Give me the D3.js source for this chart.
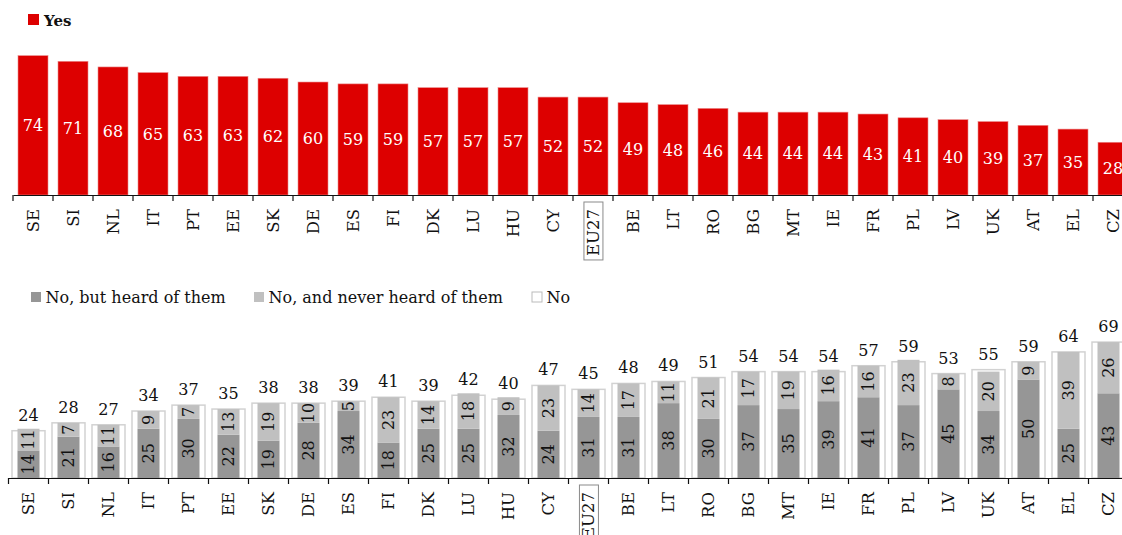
<!DOCTYPE html>
<html>
<head>
<meta charset="utf-8">
<script src="https://cdn.jsdelivr.net/npm/d3@7"></script>
<style>
  html, body { margin: 0; padding: 0; background: #fff; }
  svg text { font-family: "DejaVu Serif", serif; }
</style>
</head>
<body>
<svg id="chart" width="1122" height="535"></svg>
<script>
// Country codes, in the order shown
const countries = ["SE","SI","NL","IT","PT","EE","SK","DE","ES","FI","DK","LU","HU","CY","EU27",
  "BE","LT","RO","BG","MT","IE","FR","PL","LV","UK","AT","EL","CZ"];

// Share answering "Yes"
const yesValues = [74,71,68,65,63,63,62,60,59,59,57,57,57,52,52,49,48,46,44,44,44,43,41,40,39,37,35,28];

// Total "No" and its two components
const noTotal = [24,28,27,34,37,35,38,38,39,41,39,42,40,47,45,48,49,51,54,54,54,57,59,53,55,59,64,69];
const noHeard = [14,21,16,25,30,22,19,28,34,18,25,25,32,24,31,31,38,30,37,35,39,41,37,45,34,50,25,43];
const noNever = [11,7,11,9,7,13,19,10,5,23,14,18,9,23,14,17,11,21,17,19,16,16,23,8,20,9,39,26];

const legendTop = ["Yes"];
const legendBottom = ["No, but heard of them", "No, and never heard of them", "No"];

const RED = "#dd0000", DARK = "#969696", LIGHT = "#c0c0c0", WHITE_EDGE = "#d2d2d2", INK = "#111";
const FS = 16;

const svg = d3.select("#chart");

// ---------- Upper panel: "Yes" ----------
const xTop = d3.scaleBand().domain(countries).range([13, 13 + 40 * countries.length]).paddingInner(0).paddingOuter(0);
const yTop = d3.scaleLinear().domain([0, 100]).range([195, 195 - 188.3]);

const upper = svg.append("g");
const barWTop = 30;

upper.selectAll("rect.yes").data(countries).join("rect")
  .attr("class", "yes")
  .attr("x", d => xTop(d) + (xTop.bandwidth() - barWTop) / 2)
  .attr("width", barWTop)
  .attr("y", (d, i) => yTop(yesValues[i]))
  .attr("height", (d, i) => yTop(0) - yTop(yesValues[i]))
  .attr("fill", RED)
  .attr("stroke", "#ec8a8a").attr("stroke-width", 0.6);

upper.selectAll("text.yesLbl").data(countries).join("text")
  .attr("class", "yesLbl")
  .attr("x", d => xTop(d) + xTop.bandwidth() / 2)
  .attr("y", (d, i) => (yTop(yesValues[i]) + yTop(0)) / 2)
  .attr("dy", "0.36em")
  .attr("text-anchor", "middle")
  .attr("fill", "#fff")
  .attr("font-size", FS)
  .text((d, i) => yesValues[i]);

// axis line and category separators
function drawAxis(g, x, y0) {
  const ax = g.append("g").attr("transform", `translate(0,${y0})`)
    .call(d3.axisBottom(x).tickSize(0).tickFormat(""));
  ax.select(".domain").attr("stroke", INK).attr("stroke-width", 1.2);
  ax.selectAll(".tick").remove();
  const edges = countries.map(c => x(c));
  edges.push(x(countries[countries.length - 1]) + x.bandwidth());
  g.selectAll("line.sep").data(edges).join("line")
    .attr("class", "sep")
    .attr("x1", d => d).attr("x2", d => d)
    .attr("y1", y0).attr("y2", y0 + 6)
    .attr("stroke", INK).attr("stroke-width", 1.2);
}

function drawCategoryLabels(g, x, y0) {
  const lg = g.selectAll("g.cat").data(countries).join("g")
    .attr("class", "cat")
    .attr("transform", d => `translate(${x(d) + x.bandwidth() / 2},${y0 + 14}) rotate(-90)`);
  lg.append("text")
    .attr("text-anchor", "end")
    .attr("dy", "0.36em")
    .attr("font-size", 16.5)
    .attr("fill", INK)
    .text(d => d);
  // the EU average is framed
  lg.filter(d => d === "EU27").each(function () {
    const t = d3.select(this).select("text");
    const b = t.node().getBBox();
    d3.select(this).insert("rect", "text")
      .attr("x", b.x - 4).attr("y", b.y)
      .attr("width", b.width + 11).attr("height", b.height)
      .attr("fill", "none").attr("stroke", "#8a8a8a").attr("stroke-width", 1);
  });
}
drawAxis(upper, xTop, yTop(0));
drawCategoryLabels(upper, xTop, yTop(0));

// upper legend
const lt = svg.append("g");
lt.append("rect").attr("x", 28).attr("y", 14).attr("width", 11).attr("height", 11).attr("fill", RED);
lt.append("text").attr("x", 44).attr("y", 25.5).attr("font-size", 15).attr("font-weight", "bold")
  .attr("fill", INK).text(legendTop[0]);

// ---------- Lower panel: "No" ----------
const xBot = d3.scaleBand().domain(countries).range([8.5, 8.5 + 40 * countries.length]).paddingInner(0).paddingOuter(0);
const yBot = d3.scaleLinear().domain([0, 100]).range([478, 478 - 197]);

const lower = svg.append("g");
const outerW = 33, innerW = 22;

lower.selectAll("rect.noTot").data(countries).join("rect")
  .attr("class", "noTot")
  .attr("x", d => xBot(d) + (xBot.bandwidth() - outerW) / 2)
  .attr("width", outerW)
  .attr("y", (d, i) => yBot(noTotal[i]))
  .attr("height", (d, i) => yBot(0) - yBot(noTotal[i]))
  .attr("fill", "#fff")
  .attr("stroke", WHITE_EDGE).attr("stroke-width", 1.5);

const stackData = countries.map((c, i) => ({ c, heard: noHeard[i], never: noNever[i] }));
const stack = d3.stack().keys(["heard", "never"])(stackData);
const segColors = { heard: DARK, never: LIGHT };

const layers = lower.selectAll("g.layer").data(stack).join("g").attr("class", "layer");
layers.selectAll("rect").data(l => l.map(p => ({ key: l.key, p }))).join("rect")
  .attr("x", d => xBot(d.p.data.c) + (xBot.bandwidth() - innerW) / 2)
  .attr("width", innerW)
  .attr("y", d => yBot(d.p[1]))
  .attr("height", d => yBot(d.p[0]) - yBot(d.p[1]))
  .attr("fill", d => segColors[d.key]);

layers.selectAll("text").data(l => l.map(p => ({ key: l.key, p }))).join("text")
  .attr("transform", d => `translate(${xBot(d.p.data.c) + xBot.bandwidth() / 2},${(yBot(d.p[0]) + yBot(d.p[1])) / 2}) rotate(-90)`)
  .attr("text-anchor", "middle")
  .attr("dy", "0.36em")
  .attr("font-size", FS)
  .attr("fill", INK)
  .text(d => d.p.data[d.key]);

lower.selectAll("text.totLbl").data(countries).join("text")
  .attr("class", "totLbl")
  .attr("x", d => xBot(d) + xBot.bandwidth() / 2)
  .attr("y", (d, i) => yBot(noTotal[i]) - 10)
  .attr("text-anchor", "middle")
  .attr("font-size", FS)
  .attr("fill", INK)
  .text((d, i) => noTotal[i]);

drawAxis(lower, xBot, yBot(0));
drawCategoryLabels(lower, xBot, yBot(0));

// lower legend
const lb = svg.append("g");
const legendItems = [
  { label: legendBottom[0], x: 31, fill: DARK, stroke: "none" },
  { label: legendBottom[1], x: 254, fill: LIGHT, stroke: "none" },
  { label: legendBottom[2], x: 532, fill: "#fff", stroke: "#bbb" }
];
legendItems.forEach(it => {
  lb.append("rect").attr("x", it.x).attr("y", 292).attr("width", 10).attr("height", 10)
    .attr("fill", it.fill).attr("stroke", it.stroke).attr("stroke-width", 1);
  lb.append("text").attr("x", it.x + 14.5).attr("y", 302.5).attr("font-size", FS)
    .attr("fill", INK).text(it.label);
});
</script>
</body>
</html>
